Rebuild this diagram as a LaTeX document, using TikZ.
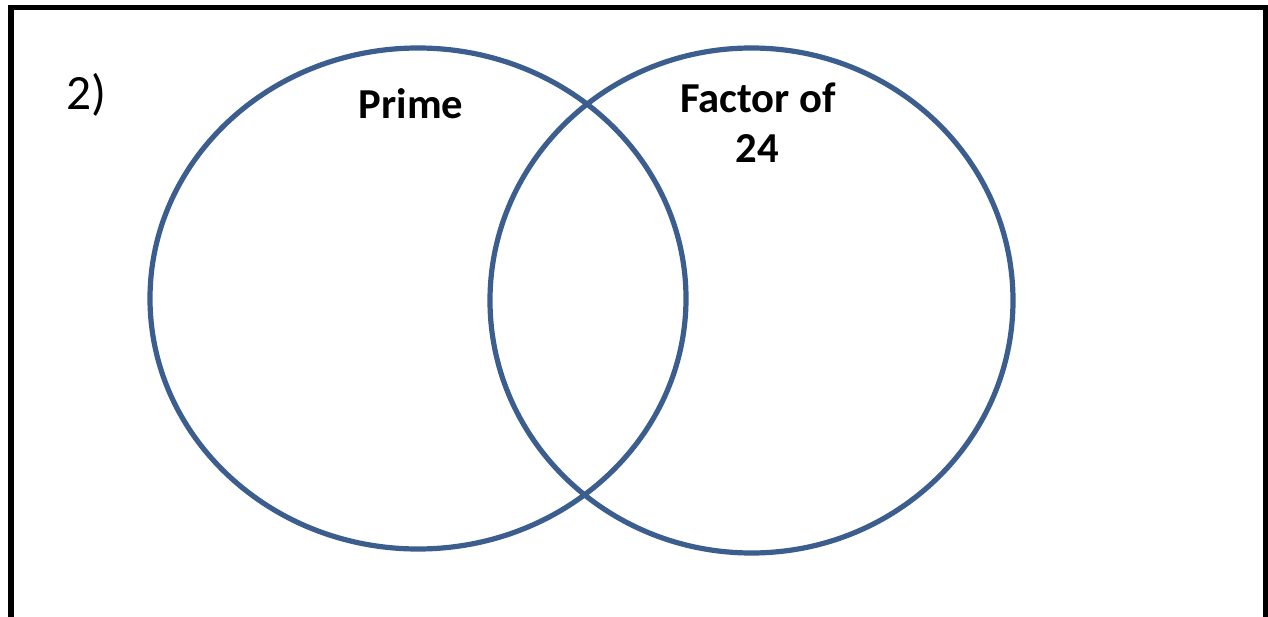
\documentclass[tikz,border=0pt]{standalone}
\usepackage{fontspec}
\setmainfont{Carlito}
\definecolor{vennblue}{RGB}{59,94,142}
\begin{document}
\begin{tikzpicture}[x=0.75pt,y=-0.75pt,
  venn/.style={draw=vennblue,line width=3.9pt},
  frame/.style={draw=black,line width=3.8pt},
  lbl/.style={font=\fontsize{32pt}{38pt}\selectfont\bfseries,anchor=base,inner sep=0pt},
  num/.style={font=\fontsize{37pt}{44pt}\selectfont,anchor=base west,inner sep=0pt}]
\useasboundingbox (0,0) rectangle (1268,617);
\clip (0,0) rectangle (1268,617);
\draw[frame] (11,7.5) rectangle (1265.5,700);
\draw[venn] (418,298.5) ellipse [x radius=268, y radius=250.5];
\draw[venn] (751.5,300.5) ellipse [x radius=261.5, y radius=252.5];
\node[num] (q) at (66,110) {2)};
\node[lbl] (prime) at (411,118) {Prime};
\node[lbl] (factor) at (758,113) {Factor of};
\node[lbl] (tf) at (757,162) {24};
\end{tikzpicture}
\end{document}
